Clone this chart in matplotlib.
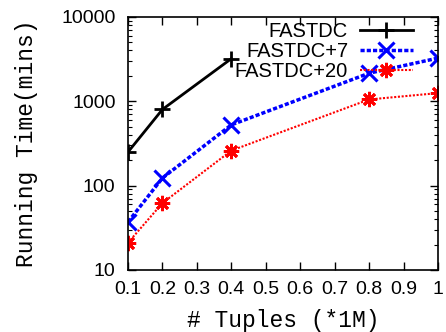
import matplotlib
matplotlib.use("Agg")
import matplotlib.pyplot as plt
from matplotlib.ticker import LogLocator, NullFormatter, FixedLocator

# Data
x_fastdc = [0.1, 0.2, 0.4]
y_fastdc = [250, 800, 3200]
x_fastdc7 = [0.1, 0.2, 0.4, 0.8, 1.0]
y_fastdc7 = [37, 123, 525, 2150, 3250]
x_fastdc20 = [0.1, 0.2, 0.4, 0.8, 1.0]
y_fastdc20 = [21, 62, 260, 1050, 1250]
x_ticks = [0.1, 0.2, 0.3, 0.4, 0.5, 0.6, 0.7, 0.8, 0.9, 1.0]
x_tick_labels = ["0.1", "0.2", "0.3", "0.4", "0.5", "0.6", "0.7", "0.8", "0.9", "1"]
y_ticks = [10, 100, 1000, 10000]

plt.rcParams["font.family"] = ["Liberation Sans", "DejaVu Sans"]

fig = plt.figure(figsize=(4.46, 3.32), dpi=100)
ax = fig.add_axes([0.287, 0.187, 0.695, 0.762])

ax.plot(x_fastdc, y_fastdc, color="black", lw=2, marker="+", ms=12, mew=2,
        label="FASTDC")
ax.plot(x_fastdc7, y_fastdc7, color="blue", lw=2.5, ls=(0, (1.2, 0.6)), marker="x",
        ms=11, mew=2.2, label="FASTDC+7")
ax.plot(x_fastdc20, y_fastdc20, color="red", lw=1.5, ls=(0, (1, 0.8)), marker=(8, 2, 0),
        ms=11, mew=2, label="FASTDC+20")

ax.set_yscale("log")
ax.set_xlim(0.1, 1.0)
ax.set_ylim(10, 10000)
ax.xaxis.set_major_locator(FixedLocator(x_ticks))
ax.set_xticklabels(x_tick_labels)
ax.set_yticks(y_ticks)
ax.set_yticklabels([str(v) for v in y_ticks])
ax.yaxis.set_minor_locator(LogLocator(base=10, subs=range(2, 10)))
ax.yaxis.set_minor_formatter(NullFormatter())

ax.tick_params(which="both", direction="in", top=True, right=True, labelsize=14)
ax.tick_params(axis="y", pad=9)
ax.tick_params(axis="x", pad=8)
ax.tick_params(which="major", length=6, width=1)
ax.tick_params(which="minor", length=3, width=0.8)
for s in ax.spines.values():
    s.set_linewidth(1.2)

ax.set_xlabel("# Tuples (*1M)", family="Liberation Mono", fontsize=16.5, labelpad=8)
ax.set_ylabel("Running Time(mins)", family="Liberation Mono", fontsize=16.5, labelpad=17)

leg = ax.legend(loc="upper right", bbox_to_anchor=(0.918, 0.98), frameon=False,
                fontsize=14.5, markerfirst=False, handlelength=2.6, handletextpad=0.6,
                labelspacing=0.05, borderaxespad=0, borderpad=0)

fig.savefig("out.png", dpi=100)
